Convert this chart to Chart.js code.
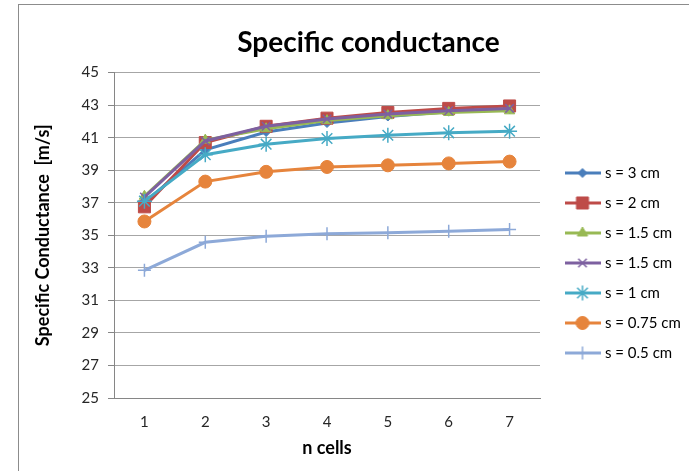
<!DOCTYPE html>
<html lang="en">

<head>
    <meta charset="UTF-8">
    <title>Specific conductance</title>
    <script src="https://cdn.jsdelivr.net/npm/chart.js"></script>
    <style>
        body { margin: 0; overflow: hidden; background: #fff; }
        #frame { position: absolute; left: 18px; top: 4px; width: 800px; height: 600px; border: 1px solid #8c8c8c; }
        #chart { position: absolute; left: 0; top: 0; }
    </style>
</head>

<body>
    <div id="frame"></div>
    <canvas id="chart" width="719" height="471"></canvas>

    <script>
        // number of cells on the x axis
        const cells = ["1", "2", "3", "4", "5", "6", "7"];

        // specific conductance [m/s] for each spacing s
        const s3 = [37.0, 40.25, 41.35, 41.9, 42.3, 42.6, 42.75];
        const s2 = [36.75, 40.7, 41.7, 42.2, 42.55, 42.8, 42.95];
        const s15a = [37.4, 40.85, 41.55, 42.05, 42.35, 42.55, 42.65];
        const s15b = [37.35, 40.8, 41.7, 42.15, 42.45, 42.65, 42.8];
        const s1 = [37.1, 39.95, 40.6, 40.95, 41.15, 41.3, 41.4];
        const s075 = [35.85, 38.3, 38.9, 39.2, 39.3, 39.42, 39.53];
        const s05 = [32.85, 34.57, 34.94, 35.1, 35.15, 35.25, 35.35];

        const seriesNames = ["s = 3 cm", "s = 2 cm", "s = 1.5 cm", "s = 1.5 cm", "s = 1 cm", "s = 0.75 cm", "s = 0.5 cm"];
        const yMin = 25, yMax = 45, yStep = 2;

        const FONT = "Lato";

        // line colour and marker for each series
        const styles = [
            { color: "#4A7EBB", point: "rectRot", radius: 4.5, bw: 1 },
            { color: "#BE4B48", point: "rect", radius: 8.5, bw: 1 },
            { color: "#98B954", point: "triangle", radius: 6, bw: 1 },
            { color: "#7D60A0", point: "crossRot", radius: 6, bw: 1.5 },
            { color: "#46AAC5", point: "star", radius: 7.5, bw: 1.5 },
            { color: "#E6843C", point: "circle", radius: 6.5, bw: 1 },
            { color: "#8DA9D8", point: "cross", radius: 6.5, bw: 1.5 }
        ];
        const values = [s3, s2, s15a, s15b, s1, s075, s05];

        const datasets = values.map((data, i) => ({
            label: seriesNames[i],
            data: data,
            borderColor: styles[i].color,
            backgroundColor: styles[i].color,
            borderWidth: 3,
            tension: 0,
            pointStyle: styles[i].point,
            pointRadius: styles[i].radius,
            pointHoverRadius: styles[i].radius,
            pointBorderWidth: styles[i].bw,
            pointBackgroundColor: styles[i].color,
            pointBorderColor: styles[i].color,
            order: values.length - i // later series on top
        }));

        // legend sample: short line with the series marker in the middle
        function legendSample(st) {
            const c = document.createElement("canvas");
            c.width = 36;
            c.height = 18;
            const ctx = c.getContext("2d");
            ctx.strokeStyle = st.color;
            ctx.fillStyle = st.color;
            ctx.lineWidth = 3;
            ctx.beginPath();
            ctx.moveTo(0, 9);
            ctx.lineTo(36, 9);
            ctx.stroke();
            ctx.lineWidth = st.bw;
            Chart.helpers.drawPoint(ctx, { pointStyle: st.point, radius: st.radius, borderWidth: st.bw, rotation: 0 }, 18, 9);
            return c;
        }
        const samples = styles.map(legendSample);

        // pin the legend to a fixed box right of the plot
        const plotRight = 540;
        const legendPlace = {
            id: "legendPlace",
            beforeLayout(chart) {
                const lg = chart.legend;
                if (lg && !lg._fixed) {
                    const fit = lg.fit.bind(lg);
                    lg.fit = function () { fit(); this.width = chart.width - plotRight; };
                    lg._fixed = true;
                }
            },
            afterLayout(chart) {
                const lg = chart.legend;
                const pad = lg.options.labels.padding;
                const dx = 567.5 - pad - lg.left;
                const dy = 165.5 - pad - lg.top;
                lg.left += dx; lg.right += dx;
                lg.top += dy; lg.bottom += dy;
            }
        };

        new Chart(document.getElementById("chart"), {
            type: "line",
            data: { labels: cells, datasets: datasets },
            plugins: [legendPlace],
            options: {
                responsive: false,
                animation: false,
                layout: { padding: { left: 18, right: 0, top: 0, bottom: 0 } },
                plugins: {
                    title: {
                        display: true,
                        text: "Specific conductance",
                        color: "#000",
                        font: { family: FONT, size: 28, weight: "bold" },
                        padding: { top: 26, bottom: 13 }
                    },
                    legend: {
                        position: "right",
                        align: "start",
                        labels: {
                            usePointStyle: true,
                            pointStyleWidth: 30,
                            padding: 15,
                            color: "#262626",
                            font: { family: FONT, size: 15 },
                            generateLabels: (chart) => chart.data.datasets.map((ds, i) => ({
                                text: ds.label,
                                pointStyle: samples[i],
                                fillStyle: ds.borderColor,
                                strokeStyle: ds.borderColor,
                                lineWidth: 0,
                                hidden: false,
                                datasetIndex: i
                            }))
                        }
                    },
                    tooltip: { enabled: false }
                },
                scales: {
                    x: {
                        offset: true,
                        grid: { display: false, drawTicks: false },
                        border: { display: true, color: "#868686", width: 1 },
                        ticks: { color: "#262626", padding: 15, font: { family: FONT, size: 15 } },
                        title: {
                            display: true,
                            text: "n cells",
                            color: "#000",
                            font: { family: FONT, size: 18, weight: "bold" },
                            padding: { top: 0, bottom: 12 }
                        },
                        afterFit: (scale) => { scale.height = 73; }
                    },
                    y: {
                        min: yMin,
                        max: yMax,
                        ticks: { stepSize: yStep, color: "#262626", padding: 9, font: { family: FONT, size: 15 } },
                        grid: { color: "#a6a6a6", lineWidth: 1, tickLength: 6, tickColor: "#868686" },
                        border: { display: true, color: "#868686", width: 1 },
                        title: {
                            display: true,
                            text: "Specific Conductance  [m/s]",
                            color: "#000",
                            font: { family: FONT, size: 18, weight: "bold" },
                            padding: { top: 14, bottom: 0 }
                        },
                        afterFit: (scale) => { scale.width = 96; }
                    }
                }
            }
        });
    </script>
</body>

</html>
